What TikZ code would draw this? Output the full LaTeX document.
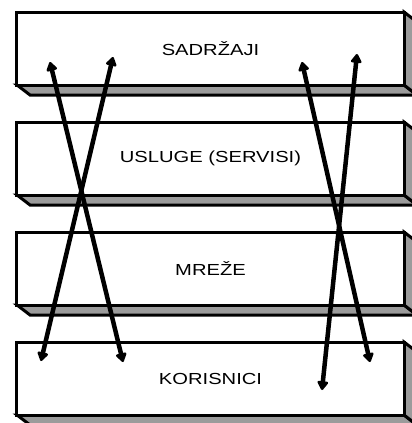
\documentclass[tikz,border=0pt]{standalone}
\usepackage{fontspec}
\setmainfont{Liberation Sans}
\usetikzlibrary{arrows.meta,calc}
\definecolor{facegray}{RGB}{155,155,155}
\tikzset{
  front/.style={draw=black, line width=3bp, fill=white, minimum width=387bp, minimum height=73bp, inner sep=0pt, line join=miter, font=\fontsize{16bp}{19bp}\selectfont},
  depth/.style={draw=black, line width=3bp, fill=facegray, line join=miter},
  link/.style={line width=4.5bp, {Triangle[length=10bp,width=12bp,round]}-{Triangle[length=10bp,width=12bp,round]}, line join=round}
}
\newcommand{\wide}[1]{\scalebox{1.26}[1]{#1}}
\begin{document}
\begin{tikzpicture}[x=1bp,y=-1bp]
\useasboundingbox (0,0) rectangle (412,423);
\clip (0,0) rectangle (412,423);
% 3D faces
\foreach \t in {12,122,232,342}{
  \pgfmathsetmacro{\b}{\t+73}
  \draw[depth] (17,\b) -- (404,\b) -- (417,\b+10) -- (30,\b+10) -- cycle;
  \draw[depth] (404,\t) -- (417,\t+10) -- (417,\b+10) -- (404,\b) -- cycle;
}
\node[front] (b1) at (210.5,48.5) {\wide{SADRŽAJI}};
\node[front] (b2) at (210.5,158.5) {\wide{USLUGE (SERVISI)}};
\node[front] (b3) at (210.5,268.5) {\wide{MREŽE}};
\node[front] (b4) at (210.5,378.5) {\wide{KORISNICI}};
% arrow ends
\coordinate (t1) at (50,62);
\coordinate (t2) at (113,57);
\coordinate (t3) at (302,62);
\coordinate (t4) at (357,54);
\coordinate (u1) at (41,361);
\coordinate (u2) at (123,362);
\coordinate (u3) at (322,390);
\coordinate (u4) at (370,362);
\draw[link] (t1) -- (u2);
\draw[link] (t2) -- (u1);
\draw[link] (t3) -- (u4);
\draw[link] (t4) -- (u3);
\end{tikzpicture}
\end{document}
